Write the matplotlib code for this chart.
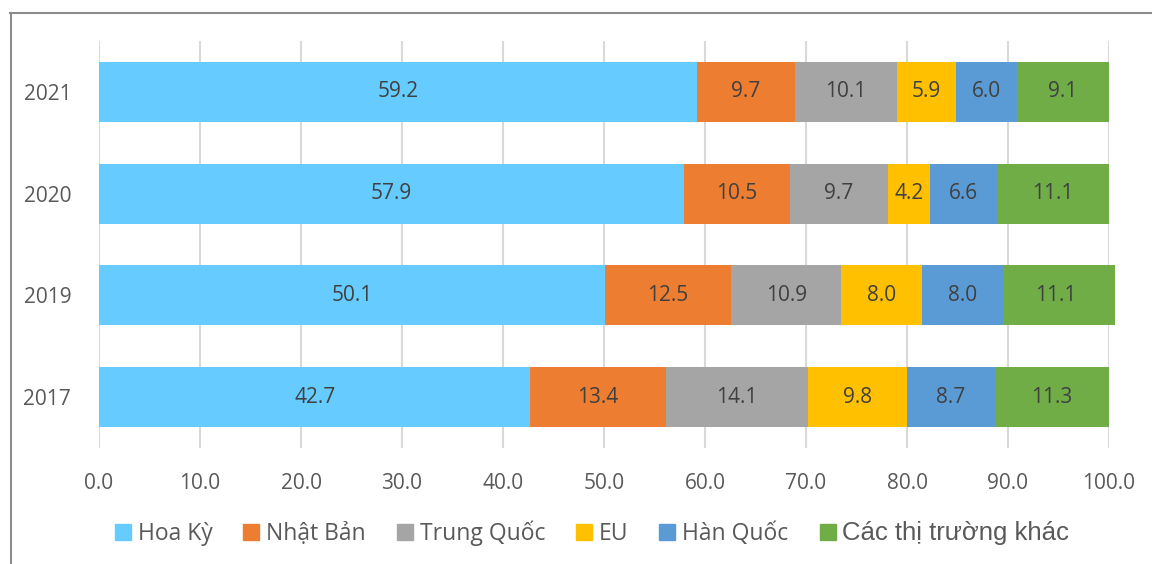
import matplotlib.pyplot as plt
from matplotlib.lines import Line2D
import numpy as np

# data: share of export markets (%) by year
years = ['2017', '2019', '2020', '2021']
series_names = ['Hoa Kỳ', 'Nhật Bản', 'Trung Quốc', 'EU', 'Hàn Quốc', 'Các thị trường khác']
hoa_ky = [42.7, 50.1, 57.9, 59.2]
nhat_ban = [13.4, 12.5, 10.5, 9.7]
trung_quoc = [14.1, 10.9, 9.7, 10.1]
eu = [9.8, 8.0, 4.2, 5.9]
han_quoc = [8.7, 8.0, 6.6, 6.0]
khac = [11.3, 11.1, 11.1, 9.1]
x_ticks = [0, 10, 20, 30, 40, 50, 60, 70, 80, 90, 100]

colors = ['#66CCFF', '#ED7D31', '#A5A5A5', '#FFC000', '#5B9BD5', '#70AD47']
all_series = [hoa_ky, nhat_ban, trung_quoc, eu, han_quoc, khac]

plt.rcParams['font.family'] = ['Open Sans', 'DejaVu Sans']

fig = plt.figure(figsize=(11.52, 5.64), dpi=100)
ax = fig.add_axes([99 / 1152, 1 - 448 / 564, 1010 / 1152, 407 / 564])

ypos = np.arange(len(years))
left = np.zeros(len(years))
for name, vals, c in zip(series_names, all_series, colors):
    bars = ax.barh(ypos, vals, left=left, height=0.59, color=c, label=name, zorder=3, clip_on=False)
    ax.bar_label(bars, labels=['%.1f' % v for v in vals], label_type='center',
                 fontsize=15, color='#404040')
    left = left + np.array(vals)

ax.set_xlim(0, 100)
ax.set_ylim(-0.5, 3.5)
ax.set_yticks(ypos)
ax.set_yticklabels(years)
ax.set_xticks(x_ticks)
ax.set_xticklabels(['%.1f' % t for t in x_ticks])
ax.tick_params(axis='both', length=0, labelsize=15, labelcolor='#595959')
ax.tick_params(axis='y', pad=20)
ax.tick_params(axis='x', pad=18)
ax.xaxis.grid(True, color='#D9D9D9', linewidth=1.5, zorder=0)
for s in ax.spines.values():
    s.set_visible(False)

# legend
leg = fig.legend(handles=[plt.Rectangle((0, 0), 1, 1, color=c) for c in colors],
                 labels=series_names, loc='center', bbox_to_anchor=(592 / 1152, 1 - 533 / 564),
                 ncol=6, frameon=False, fontsize=16.5, handlelength=0.7, handleheight=0.7,
                 handletextpad=0.3, columnspacing=1.35, labelcolor='#595959')
leg.get_texts()[-1].set_family('Liberation Sans')
leg.get_texts()[-1].set_fontsize(18.5)

# chart border (left and top edges)
fig.add_artist(Line2D([10.5 / 1152, 10.5 / 1152], [0, 1 - 13 / 564], color='#8C8C8C', linewidth=1.5))
fig.add_artist(Line2D([10 / 1152, 1], [1 - 13 / 564, 1 - 13 / 564], color='#8C8C8C', linewidth=1.5))

plt.savefig('out.png', dpi=100)
